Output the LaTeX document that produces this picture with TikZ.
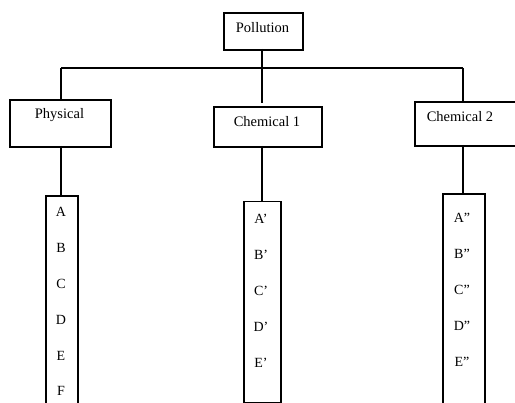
\documentclass[tikz,border=0pt]{standalone}
\usepackage{fontspec}
\setmainfont{Liberation Serif}
\begin{document}
\begin{tikzpicture}[x=1pt,y=-1pt,
  box/.style={draw,line width=1.8pt,rectangle,inner sep=0pt,anchor=north west},
  lbl/.style={font=\fontsize{14.5}{16}\selectfont,inner sep=0pt},
  item/.style={font=\fontsize{14}{16}\selectfont,inner sep=0pt},
  wire/.style={line width=1.8pt}]
\useasboundingbox (0,0) rectangle (515,403);
\clip (0,0) rectangle (515,403);
% top category boxes
\node[box,minimum width=79pt,minimum height=37pt] (pol) at (223,12) {};
\node[lbl] (polt) at (262.5,28) {Pollution};
\node[box,minimum width=101pt,minimum height=47pt] (phys) at (9,99) {};
\node[lbl] (physt) at (59.5,115) {Physical};
\node[box,minimum width=108pt,minimum height=40pt] (chA) at (213,106) {};
\node[lbl] (chAt) at (267,122) {Chemical 1};
\node[box,minimum width=101pt,minimum height=44pt] (chB) at (414,101) {};
\node[lbl] (chBt) at (460,117) {Chemical 2};
% list columns
\node[box,minimum width=32pt,minimum height=230pt] (lp) at (44.7,195) {};
\node[box,minimum width=37pt,minimum height=201pt] (la) at (242.7,200.7) {};
\node[box,minimum width=42pt,minimum height=230pt] (lb) at (442.3,193.3) {};
% connectors
\coordinate (busL) at (61,68);
\coordinate (busM) at (262,68);
\coordinate (busR) at (463,68);
\coordinate (polFoot) at (262,49);
\coordinate (midEnd) at (262,103);
\coordinate (physFoot) at (61,146);
\coordinate (chAFoot) at (261.7,146);
\coordinate (chBFoot) at (462.7,145);
\draw[wire] (busL) -- (busR);
\draw[wire] (polFoot) -- (busM);
\draw[wire] (busL) -- (busL |- phys.north);
\draw[wire] (busM) -- (midEnd);
\draw[wire] (busR) -- (busR |- chB.north);
\draw[wire] (physFoot) -- (physFoot |- lp.north);
\draw[wire] (chAFoot) -- (chAFoot |- la.north);
\draw[wire] (chBFoot) -- (chBFoot |- lb.north);
% list entries
\node[item] (p1) at (61,212) {A};
\node[item] (p2) at (61,248) {B};
\node[item] (p3) at (61,284) {C};
\node[item] (p4) at (61,320) {D};
\node[item] (p5) at (61,356) {E};
\node[item] (p6) at (61,391) {F};
\node[item] (a1) at (261,219) {A’};
\node[item] (a2) at (261,255) {B’};
\node[item] (a3) at (261,291) {C’};
\node[item] (a4) at (261,327) {D’};
\node[item] (a5) at (261,363) {E’};
\node[item] (b1) at (462,218) {A”};
\node[item] (b2) at (462,254) {B”};
\node[item] (b3) at (462,290) {C”};
\node[item] (b4) at (462,326) {D”};
\node[item] (b5) at (462,362) {E”};
\end{tikzpicture}
\end{document}
